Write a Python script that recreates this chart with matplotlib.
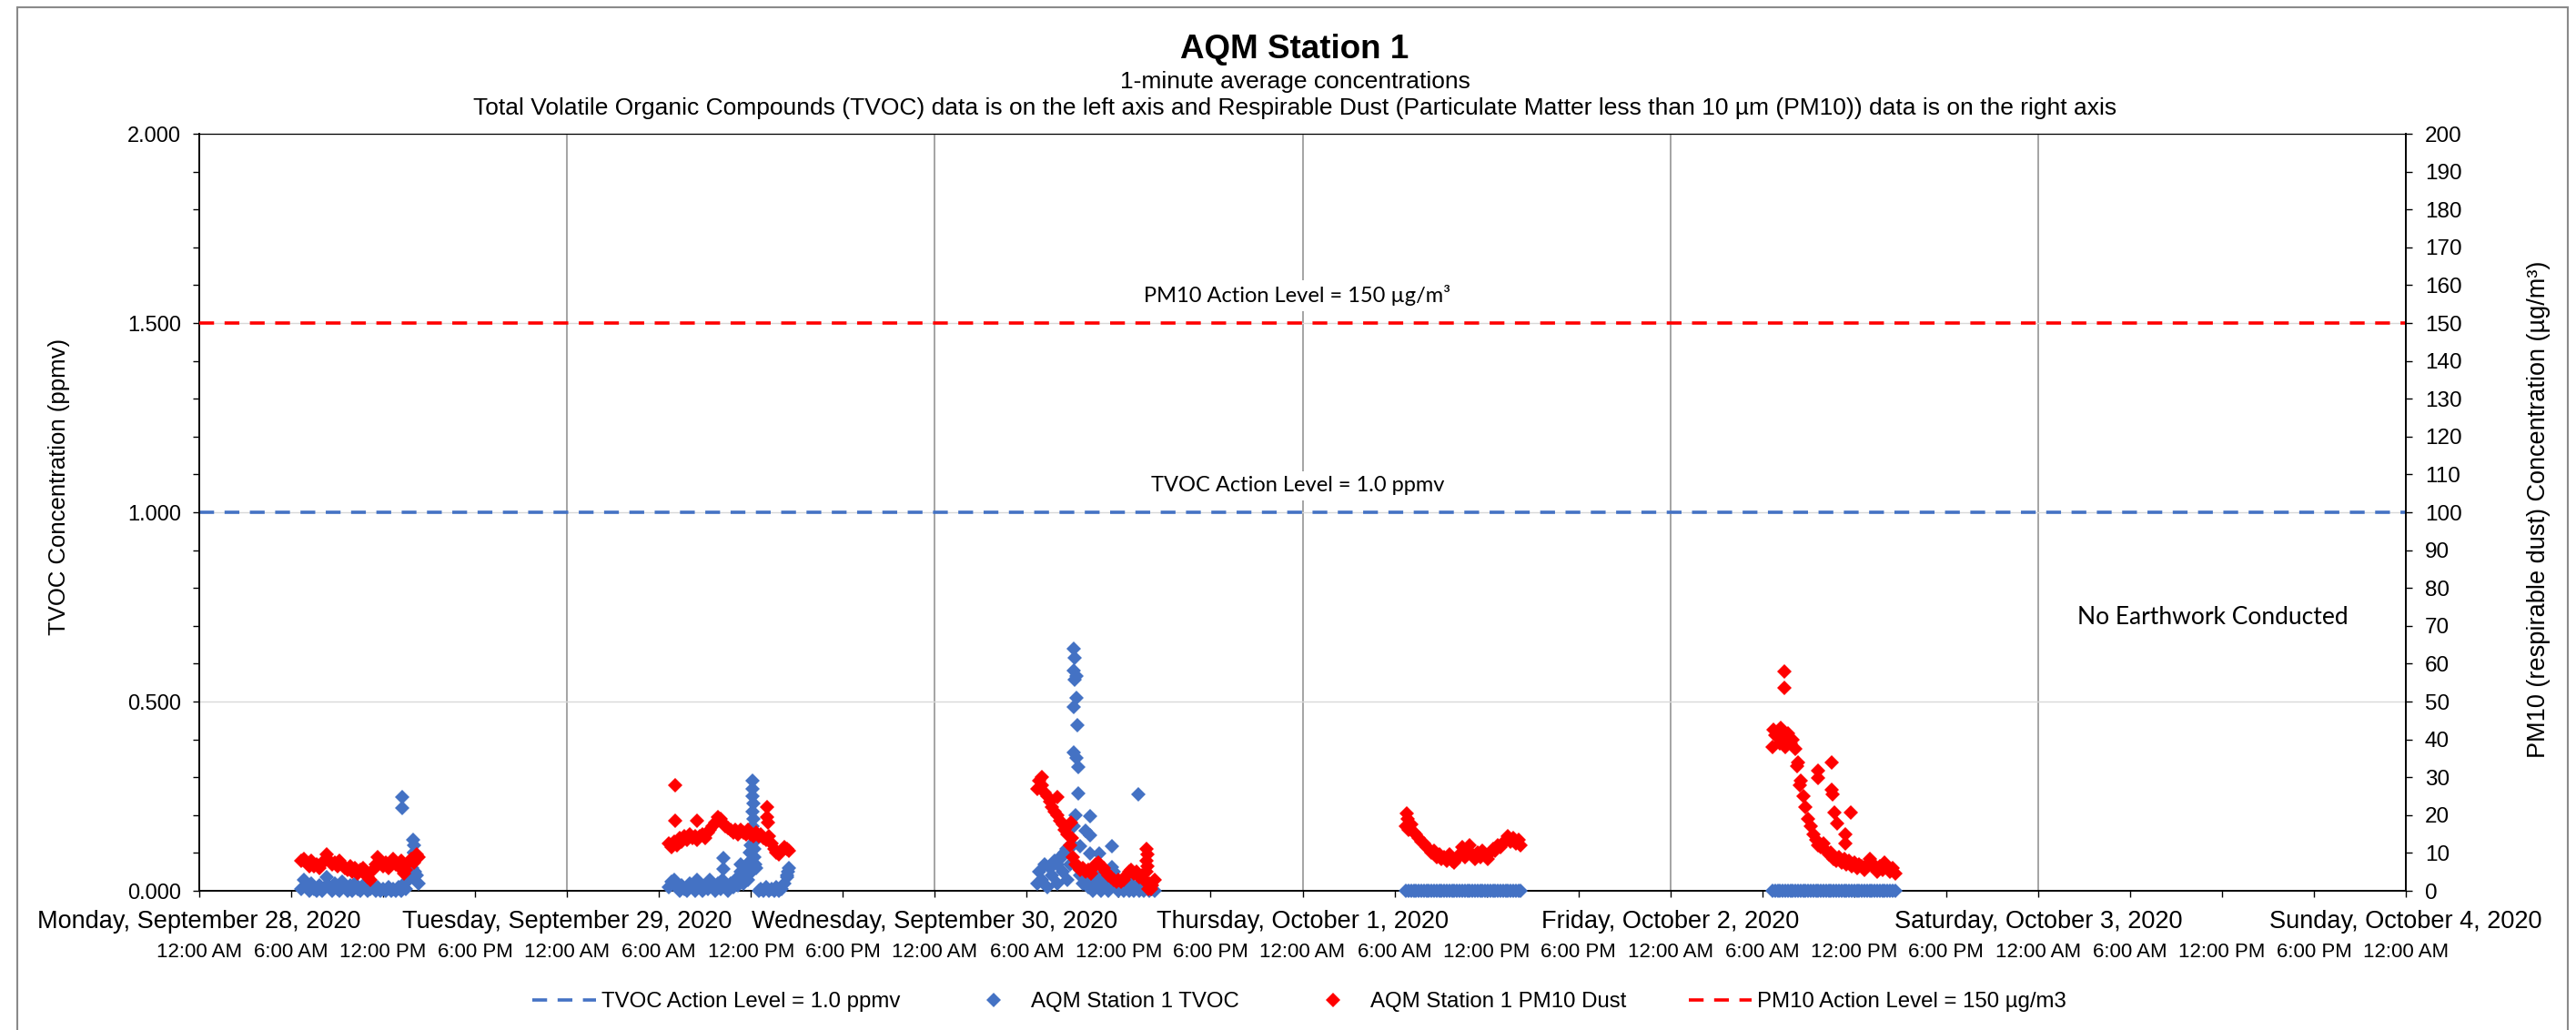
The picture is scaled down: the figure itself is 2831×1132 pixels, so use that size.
import matplotlib
matplotlib.use("Agg")
import matplotlib.pyplot as plt
import numpy as np
from matplotlib.patches import Rectangle

plt.rcParams['font.family'] = ['Liberation Sans', 'DejaVu Sans']

# ---------------- data ----------------
day_labels = ["Monday, September 28, 2020", "Tuesday, September 29, 2020",
              "Wednesday, September 30, 2020", "Thursday, October 1, 2020",
              "Friday, October 2, 2020", "Saturday, October 3, 2020",
              "Sunday, October 4, 2020"]
hour_labels = ["12:00 AM", "6:00 AM", "12:00 PM", "6:00 PM"] * 6 + ["12:00 AM"]

tvoc_action = 1.0     # ppmv
pm10_action = 150     # ug/m3

interval_min = 10     # spacing of the readings listed below

# day index (0 = Mon Sep 28), first reading (hour of day)
mon_day, mon_start = 0, 6 + 40/60
mon_pm10 = [8.0, 8.5, 7.5, 6.5, 8.0, 6.5, 7.0, 6.0, 7.5, 8.0, 9.5, 8.0, 7.0, 7.5, 6.5, 8.0,
            7.0, 6.0, 5.5, 6.5, 5.0, 6.0, 4.5, 5.5, 6.0, 5.0, 3.5, 3.0, 5.5, 7.0, 9.0, 8.0,
            6.5, 7.5, 6.0, 7.0, 8.5, 7.0, 6.5, 8.0, 4.5, 5.5, 7.5, 8.5, 7.5, 9.5, 9.0]
mon_tvoc = [0.005, 0.03, 0.01, 0.0, 0.02, 0.005, 0.0, 0.015, 0.0, 0.01, 0.035, 0.01, 0.0, 0.02,
            0.005, 0.0, 0.025, 0.01, 0.0, 0.015, 0.0, 0.02, 0.005, 0.0, 0.01, 0.02, 0.0, 0.005,
            0.015, 0.0, 0.01, 0.0, 0.005, 0.0, 0.01, 0.0, 0.005, 0.0, 0.01, 0.0, 0.02, 0.005,
            0.03, 0.06, 0.10, 0.04, 0.02]

tue_day, tue_start = 1, 6 + 40/60
tue_pm10 = [12.5, 11.5, 13.0, 12.0, 14.0, 13.0, 14.5, 13.5, 15.0, 14.0, 14.5, 13.5, 14.5, 15.0,
            14.0, 15.5, 16.0, 17.0, 18.0, 19.5, 19.0, 18.0, 17.0, 16.5, 16.0, 15.5, 16.0, 15.0,
            16.0, 15.5, 15.0, 16.0, 15.0, 14.5, 15.5, 14.5, 15.0, 14.0, 13.5, 14.5, 12.5, 11.0,
            10.0, 9.5, 10.5, 11.5, 11.0, 10.5]
tue_tvoc = [0.01, 0.025, 0.03, 0.01, 0.0, 0.015, 0.005, 0.0, 0.02, 0.01, 0.0, 0.03, 0.01, 0.0,
            0.015, 0.005, 0.03, 0.01, 0.0, 0.02, 0.005, 0.03, 0.01, 0.0, 0.02, 0.01, 0.03, 0.015,
            0.04, 0.02, 0.05, 0.03, 0.08, 0.15, 0.06, 0.0, 0.005, 0.0, 0.01, 0.0, 0.005, 0.0,
            0.01, 0.0, 0.005, 0.02, 0.04, 0.06]

wed_day, wed_start = 2, 6 + 40/60
wed_pm10 = [27.0, 29.0, 28.0, 26.0, 25.0, 23.5, 22.0, 21.0, 20.0, 18.5, 17.5, 16.0, 15.0, 12.0,
            9.0, 7.0, 6.5, 5.5, 6.0, 5.0, 5.5, 4.5, 6.0, 7.0, 7.5, 6.5, 6.0, 5.0, 4.0, 3.5, 3.0,
            2.5, 3.0, 2.5, 3.0, 4.0, 5.0, 5.5, 4.5, 5.0, 3.5, 4.0, 3.0, 5.0, 2.0, 1.5, 3.0]
wed_tvoc = [0.02, 0.05, 0.03, 0.07, 0.01, 0.06, 0.04, 0.08, 0.02, 0.09, 0.05, 0.10, 0.03, 0.07,
            0.12, 0.20, 0.06, 0.04, 0.02, 0.05, 0.01, 0.03, 0.0, 0.04, 0.02, 0.0, 0.03, 0.01,
            0.0, 0.02, 0.05, 0.01, 0.0, 0.02, 0.0, 0.01, 0.0, 0.02, 0.0, 0.01, 0.0, 0.02, 0.0,
            0.01, 0.0, 0.005, 0.0]

thu_day, thu_start = 3, 6 + 45/60
thu_pm10 = [17.0, 16.0, 17.5, 15.5, 15.0, 14.0, 13.0, 12.5, 11.5, 11.0, 10.0, 10.5, 9.0, 9.5,
            8.5, 9.0, 8.0, 9.5, 8.0, 7.5, 8.5, 9.5, 11.5, 9.0, 10.5, 12.0, 9.5, 8.5, 10.0, 9.0,
            10.5, 9.5, 8.5, 10.0, 11.0, 10.5, 12.0, 11.5, 12.5, 13.5, 14.5, 13.0, 14.0, 12.5,
            13.5, 12.0]
thu_tvoc = [0.0, 0.0, 0.0, 0.0, 0.0, 0.0, 0.0, 0.0, 0.0, 0.0, 0.0, 0.0, 0.0, 0.0, 0.0, 0.0,
            0.0, 0.0, 0.0, 0.0, 0.0, 0.0, 0.0, 0.0, 0.0, 0.0, 0.0, 0.0, 0.0, 0.0, 0.0, 0.0,
            0.0, 0.0, 0.0, 0.0, 0.0, 0.0, 0.0, 0.0, 0.0, 0.0, 0.0, 0.0, 0.0, 0.0]

fri_day, fri_start = 4, 6 + 40/60
fri_pm10 = [38.0, 41.0, 42.0, 39.0, 40.5, 38.0, 41.5, 39.0, 40.0, 37.5, 34.0, 29.0, 25.0, 22.0,
            19.0, 17.0, 15.0, 13.5, 12.0, 11.5, 12.5, 10.5, 9.5, 10.0, 8.5, 8.0, 9.0, 7.5, 8.5,
            7.0, 8.0, 6.5, 7.5, 6.0, 7.0, 6.5, 5.5, 7.0, 8.5, 7.5, 6.0, 5.0, 6.5, 5.5, 7.5,
            6.5, 5.0, 6.0, 4.5]
fri_tvoc = [0.0, 0.0, 0.0, 0.0, 0.0, 0.0, 0.0, 0.0, 0.0, 0.0, 0.0, 0.0, 0.0, 0.0, 0.0, 0.0,
            0.0, 0.0, 0.0, 0.0, 0.0, 0.0, 0.0, 0.0, 0.0, 0.0, 0.0, 0.0, 0.0, 0.0, 0.0, 0.0,
            0.0, 0.0, 0.0, 0.0, 0.0, 0.0, 0.0, 0.0, 0.0, 0.0, 0.0, 0.0, 0.0, 0.0, 0.0, 0.0, 0.0]

# isolated / spike readings (hours since Mon Sep 28 00:00)
tvoc_extra_t = [13.27, 13.27, 13.95, 14.0, 14.03, 13.97, 13.9, 13.85, 14.08,
                36.10, 36.12, 36.08, 36.14, 36.12, 36.16, 36.10, 36.18, 36.20, 36.22, 36.25,
                36.28, 36.0, 35.95, 34.2, 34.2, 35.32, 35.35, 35.85, 35.9, 38.4, 38.35,
                57.07, 57.15, 57.07, 57.27, 57.15, 57.27, 57.07, 57.30, 57.07, 57.27, 57.35,
                57.35, 57.07, 57.86, 58.15, 58.15, 58.15, 58.74, 59.53, 59.53, 61.3, 57.46,
                56.3, 56.6, 56.0]
tvoc_extra_v = [0.248, 0.219, 0.135, 0.12, 0.10, 0.08, 0.06, 0.045, 0.05,
                0.29, 0.27, 0.25, 0.23, 0.21, 0.19, 0.17, 0.15, 0.13, 0.11, 0.09,
                0.07, 0.12, 0.10, 0.087, 0.058, 0.07, 0.05, 0.075, 0.045, 0.05, 0.035,
                0.640, 0.616, 0.582, 0.568, 0.558, 0.510, 0.486, 0.438, 0.366, 0.351, 0.327,
                0.258, 0.171, 0.158, 0.198, 0.146, 0.098, 0.098, 0.118, 0.062, 0.255, 0.118,
                0.09, 0.11, 0.07]
pm10_extra_t = [31.08, 31.08, 32.48, 37.05, 37.05, 37.1,
                55.0, 56.0, 56.9, 56.95, 61.82, 61.85, 61.8, 61.9, 61.95, 62.1,
                78.8, 78.85,
                103.44, 103.44, 105.64, 105.64, 106.55, 106.55, 106.6, 106.7, 107.76, 106.9,
                107.4, 107.45, 104.3, 104.45, 102.75, 103.2]
pm10_extra_v = [27.9, 18.6, 18.6, 22.0, 19.5, 18.0,
                30.0, 24.8, 18.0, 14.0, 11.0, 9.5, 8.0, 6.5, 0.5, 0.5,
                20.5, 19.0,
                58.0, 53.7, 31.8, 29.8, 33.9, 26.7, 25.5, 20.7, 20.7, 17.8,
                15.0, 12.5, 33.0, 28.0, 42.5, 43.0]

days = [(mon_day, mon_start, mon_pm10, mon_tvoc),
        (tue_day, tue_start, tue_pm10, tue_tvoc),
        (wed_day, wed_start, wed_pm10, wed_tvoc),
        (thu_day, thu_start, thu_pm10, thu_tvoc),
        (fri_day, fri_start, fri_pm10, fri_tvoc)]

t_all, pm_all, tv_all = [], [], []
for d, st, pm, tv in days:
    t = d * 24 + st + np.arange(len(pm)) * interval_min / 60.0
    t_all.append(t); pm_all.append(pm); tv_all.append(tv)
t_all = np.concatenate(t_all)
pm_all = np.concatenate(pm_all)
tv_all = np.concatenate(tv_all)
tv_t = np.concatenate([t_all, tvoc_extra_t])
tv_v = np.concatenate([tv_all, tvoc_extra_v])
pm_t = np.concatenate([t_all, pm10_extra_t])
pm_v = np.concatenate([pm_all, pm10_extra_v])

# ---------------- figure ----------------
W, H = 2831, 1132
fig = plt.figure(figsize=(W / 100, H / 100), dpi=100)
fig.patch.set_facecolor('white')

L, R, T, B = 219, 2644, 147, 979
ax = fig.add_axes([L / W, 1 - B / H, (R - L) / W, (B - T) / H])
ax2 = ax.twinx()

BLUE = '#4472C4'
RED = '#FF0000'

ax.set_xlim(0, 144)
ax.set_ylim(0, 2)
ax2.set_ylim(0, 200)

# x ticks: 6-hour major ticks with hour labels, day labels as minor labels
ax.xaxis.remove_overlapping_locs = False
ax.set_xticks(np.arange(0, 145, 6))
ax.set_xticklabels(hour_labels)
ax.set_xticks(np.arange(0, 145, 24), minor=True)
ax.set_xticklabels(day_labels, minor=True)
ax.tick_params(axis='x', which='major', direction='out', length=5, width=1.0,
               labelsize=16, pad=36)
ax.tick_params(axis='x', which='minor', length=0, labelsize=19.5, pad=15)

ax.set_yticks([0, 0.5, 1.0, 1.5, 2.0])
ax.set_yticklabels(["%.3f" % v for v in [0, 0.5, 1.0, 1.5, 2.0]])
ax.set_yticks(np.arange(0, 2.001, 0.1), minor=True)
ax.tick_params(axis='y', which='both', direction='out', length=5, width=1.0,
               labelsize=17, pad=9.5, right=False)

ax2.set_yticks(np.arange(0, 201, 10))
ax2.tick_params(axis='y', which='both', direction='out', length=5, width=1.0,
                labelsize=17.5, pad=10, left=False)

# grid
ax.grid(True, which='minor', axis='x', color='#8c8c8c', lw=1.1)
ax.grid(True, which='major', axis='y', color='#d9d9d9', lw=1.0)
ax.grid(False, which='major', axis='x')

for s in ['left', 'bottom', 'right']:
    ax.spines[s].set_linewidth(1.4)
ax.spines['top'].set_linewidth(0.9)
ax.spines['right'].set_visible(False)
for s in ['left', 'bottom', 'top']:
    ax2.spines[s].set_visible(False)
ax2.spines['right'].set_linewidth(1.4)

# action levels
l_tv = ax.axhline(tvoc_action, color=BLUE, lw=2.6, ls=(0, (4.5, 3.2)), zorder=2.2)
l_pm = ax2.axhline(pm10_action, color=RED, lw=2.6, ls=(0, (4.5, 3.2)), zorder=2.2)

# data
h_tv, = ax.plot(tv_t, tv_v, ls='none', marker='D', ms=8.4, mew=0, color=BLUE,
                clip_on=False, zorder=3)
h_pm, = ax2.plot(pm_t, pm_v, ls='none', marker='D', ms=8.4, mew=0, color=RED,
                 clip_on=False, zorder=3)

# annotations
ann_kw = dict(transform=ax2.transAxes, ha='center', va='center', fontsize=17,
              family=['Lato', 'DejaVu Sans'], zorder=4,
              bbox=dict(fc='white', ec='none', pad=4))
ax2.text((1426 - L) / (R - L), (B - 325) / (B - T), "PM10 Action Level = 150 µg/m³", **ann_kw)
ax2.text((1426 - L) / (R - L), (B - 534) / (B - T), "TVOC Action Level = 1.0 ppmv", **ann_kw)
ax2.text((2432 - L) / (R - L), (B - 679) / (B - T), "No Earthwork Conducted",
         **dict(ann_kw, fontsize=19))

# titles
cx = 1423 / W
fig.text(cx, 1 - 54 / H, "AQM Station 1", ha='center', va='center', fontsize=26.5,
         fontweight='bold')
fig.text(cx, 1 - 90 / H, "1-minute average concentrations", ha='center', va='center',
         fontsize=19)
fig.text(cx, 1 - 119 / H,
         "Total Volatile Organic Compounds (TVOC) data is on the left axis and Respirable Dust "
         "(Particulate Matter less than 10 µm (PM10)) data is on the right axis",
         ha='center', va='center', fontsize=19)

# axis titles
fig.text(65 / W, 1 - 535 / H, "TVOC Concentration (ppmv)", rotation=90, ha='center',
         va='center', fontsize=18.5)
fig.text(2790 / W, 1 - 560 / H, "PM10 (respirable dust) Concentration (µg/m³)", rotation=90,
         ha='center', va='center', fontsize=19.5)

# legend
fig.legend([l_tv, h_tv, h_pm, l_pm],
           ["TVOC Action Level = 1.0 ppmv", "AQM Station 1 TVOC", "AQM Station 1 PM10 Dust",
            "PM10 Action Level = 150 µg/m3"],
           loc='center', bbox_to_anchor=(1428 / W, 1 - 1101 / H), ncol=4, frameon=False,
           fontsize=17.3, handlelength=2.9, handletextpad=0.25, columnspacing=2.85,
           numpoints=1)

# chart border
fig.add_artist(Rectangle((19 / W, -0.02), (2822 - 19) / W, 1.02 - 8 / H,
                         transform=fig.transFigure, fill=False, ec='#8a8a8a', lw=1.5))

fig.savefig("out.png", dpi=100, facecolor='white')
